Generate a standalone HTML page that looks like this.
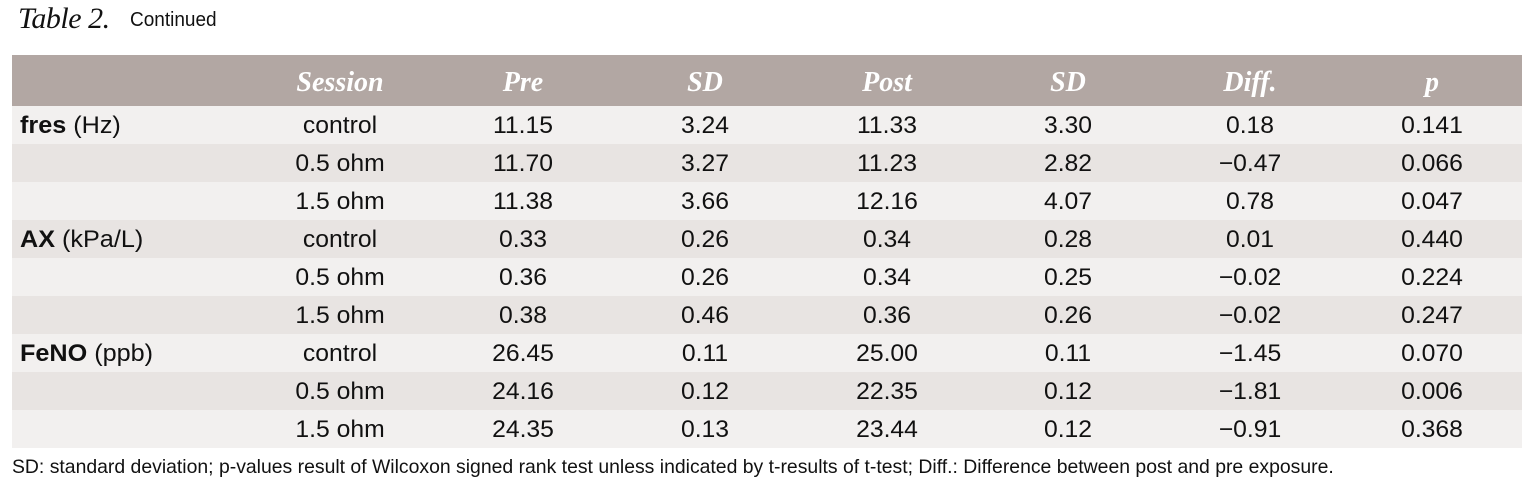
<!DOCTYPE html>
<html><head><meta charset="utf-8"><style>
body{margin:0;width:1527px;height:489px;background:#fff;position:relative;overflow:hidden;font-family:"Liberation Sans",sans-serif;}
.t{position:absolute;left:18px;top:2px;font-family:"Liberation Serif",serif;font-style:italic;font-size:30px;color:#111;letter-spacing:-0.5px}
.c{position:absolute;left:130px;top:9px;font-size:20px;color:#111;transform:scaleX(0.95);transform-origin:left}
.hdr{position:absolute;left:12px;top:55px;width:1510px;height:51px;background:#b2a7a3}
.row{position:absolute;left:12px;width:1510px;height:38px}
.l{background:#f2f0ef}.d{background:#e8e4e2}
.h{position:absolute;top:67px;font-family:"Liberation Serif",serif;font-style:italic;font-weight:bold;font-size:28px;color:#fff;transform:translateX(-50%)}
.v{position:absolute;font-size:24px;color:#111;transform:translateX(-50%) scaleX(1.03)}
.lab{position:absolute;left:20px;font-size:24px;color:#111;transform:scaleX(1.05);transform-origin:left}
.f{position:absolute;left:12px;top:456px;font-size:19.4px;color:#111;transform:scaleX(1.0);transform-origin:left;white-space:nowrap}
</style></head><body>
<div class="t">Table 2.</div><div class="c">Continued</div>
<div class="hdr"></div>
<div class="h" style="left:340px">Session</div>
<div class="h" style="left:523px">Pre</div>
<div class="h" style="left:705px">SD</div>
<div class="h" style="left:887px">Post</div>
<div class="h" style="left:1068px">SD</div>
<div class="h" style="left:1250px">Diff.</div>
<div class="h" style="left:1432px">p</div>
<div id="rows"></div>
<script>
var d=[["<b>fres</b> (Hz)","control","11.15","3.24","11.33","3.30","0.18","0.141"],
["","0.5 ohm","11.70","3.27","11.23","2.82","−0.47","0.066"],
["","1.5 ohm","11.38","3.66","12.16","4.07","0.78","0.047"],
["<b>AX</b> (kPa/L)","control","0.33","0.26","0.34","0.28","0.01","0.440"],
["","0.5 ohm","0.36","0.26","0.34","0.25","−0.02","0.224"],
["","1.5 ohm","0.38","0.46","0.36","0.26","−0.02","0.247"],
["<b>FeNO</b> (ppb)","control","26.45","0.11","25.00","0.11","−1.45","0.070"],
["","0.5 ohm","24.16","0.12","22.35","0.12","−1.81","0.006"],
["","1.5 ohm","24.35","0.13","23.44","0.12","−0.91","0.368"]];
var xs=[340,523,705,887,1068,1250,1432],h="";
d.forEach(function(r,i){var y=106+i*38;h+='<div class="row '+(i%2?'d':'l')+'" style="top:'+y+'px"></div>';
h+='<div class="lab" style="top:'+(y+6)+'px">'+r[0]+'</div>';
for(var j=1;j<8;j++)h+='<div class="v" style="left:'+xs[j-1]+'px;top:'+(y+6)+'px">'+r[j]+'</div>';});
document.getElementById("rows").innerHTML=h;
</script>
<div class="f">SD: standard deviation; p-values result of Wilcoxon signed rank test unless indicated by t-results of t-test; Diff.: Difference between post and pre exposure.</div>
</body></html>
